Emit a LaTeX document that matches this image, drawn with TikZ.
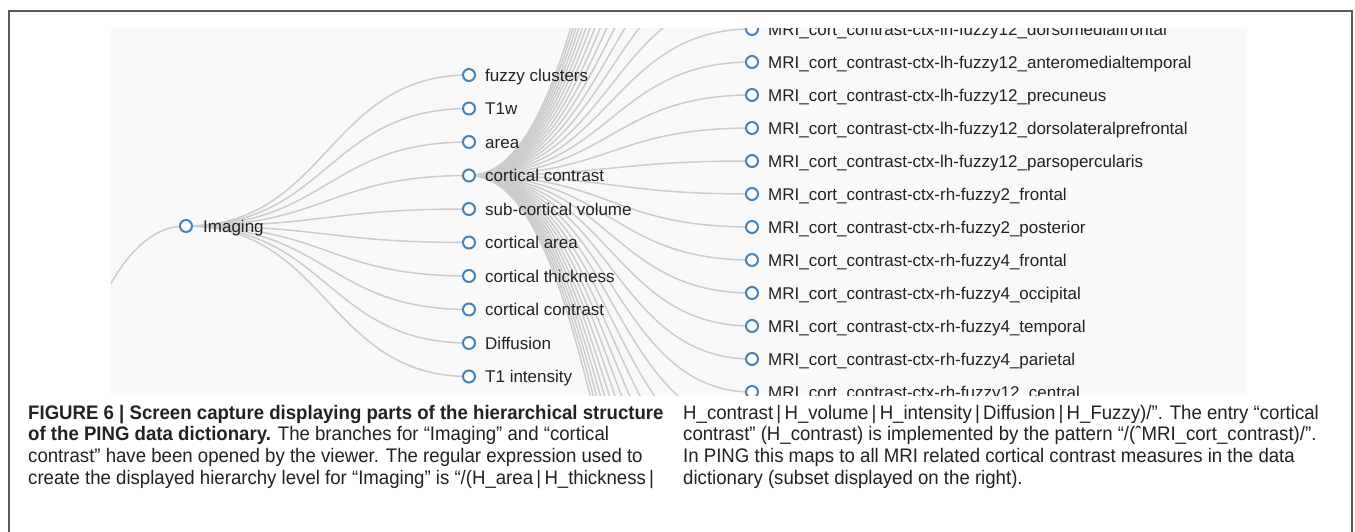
\documentclass[tikz,border=0pt]{standalone}
\usepackage{fontspec}
\setmainfont{Liberation Sans}
\newfontfamily\capfont[FakeStretch=0.95]{Liberation Sans}
\definecolor{steel}{HTML}{4682B4}
\definecolor{linkc}{HTML}{CCCCCC}
\definecolor{shotbg}{HTML}{F9F9F9}
\definecolor{framec}{HTML}{5A5A5A}
\definecolor{labelc}{HTML}{222222}
\begin{document}
\begin{tikzpicture}[x=1pt,y=-1pt,
  tlink/.style={draw=linkc, line width=1.5pt},
  tnode/.style={circle, draw=steel, fill=white, line width=2pt, minimum size=12pt, inner sep=0pt},
  tlabel/.style={anchor=base west, inner sep=0pt, text=labelc, font=\fontsize{17}{20}\selectfont},
  capline/.style={anchor=base west, inner sep=0pt, text=labelc, font=\capfont\fontsize{19.6}{21}\selectfont},
  frameline/.style={draw=framec, line width=1.5pt}]
\useasboundingbox (0,0) rectangle (1355,531);
\fill[white] (0,0) rectangle (1355,531);
% outer frame
\draw[frameline] (9,540) -- (9,11) -- (1352,11) -- (1352,540);
% screenshot area
\fill[shotbg] (111,28) rectangle (1247,395);
\begin{scope}
\clip (111,28) rectangle (1247,395);
% coordinates
\coordinate (imgp) at (-97,700);
\coordinate (img) at (186,226);
\foreach \i in {1,...,10} \coordinate (c2-\i) at (469,{75+33.5*(\i-1)});
\foreach \k in {-15,...,22} \coordinate (m\k) at (752,{62+33*\k});
% links
\draw[tlink] (imgp) .. controls +(141.5,0) and +(-141.5,0) .. (img);
\foreach \i in {1,...,10}
  \draw[tlink] (img) .. controls +(141.5,0) and +(-141.5,0) .. (c2-\i);
\foreach \k in {-15,...,22}
  \draw[tlink] (c2-4) .. controls +(141.5,0) and +(-141.5,0) .. (m\k);
% nodes
\node[tnode] (imaging) at (img) {};
\node[tlabel] (imaginglab) at ([shift={(17,6)}]img) {Imaging};
\foreach \i/\t in {1/fuzzy clusters,2/T1w,3/area,4/cortical contrast,5/sub-cortical volume,6/cortical area,7/cortical thickness,8/cortical contrast,9/Diffusion,10/T1 intensity}{
  \node[tnode] (n2-\i) at (c2-\i) {};
  \node[tlabel] (l2-\i) at ([shift={(16,6)}]c2-\i) {\t};
}
\foreach \k/\t in {-1/lh-fuzzy12\_dorsomedialfrontal,0/lh-fuzzy12\_anteromedialtemporal,1/lh-fuzzy12\_precuneus,2/lh-fuzzy12\_dorsolateralprefrontal,3/lh-fuzzy12\_parsopercularis,4/rh-fuzzy2\_frontal,5/rh-fuzzy2\_posterior,6/rh-fuzzy4\_frontal,7/rh-fuzzy4\_occipital,8/rh-fuzzy4\_temporal,9/rh-fuzzy4\_parietal,10/rh-fuzzy12\_central}{
  \node[tnode] (n3\k) at (m\k) {};
  \node[tlabel] (l3\k) at ([shift={(16,6)}]m\k) {MRI\_cort\_contrast-ctx-\t};
}
\end{scope}
% caption
\node[capline] (capL1) at (28,419) {\bfseries FIGURE 6 | Screen capture displaying parts of the hierarchical structure};
\node[capline] (capL2) at (28,440.7) {\textbf{of the PING data dictionary.} The branches for “Imaging” and “cortical};
\node[capline] (capL3) at (28,462.4) {contrast” have been opened by the viewer. The regular expression used to};
\node[capline] (capL4) at (28,484) {create the displayed hierarchy level for “Imaging” is “/(H\_area\,|\,H\_thickness\,|};
\node[capline] (capR1) at (683,419) {H\_contrast\,|\,H\_volume\,|\,H\_intensity\,|\,Diffusion\,|\,H\_Fuzzy)/”. The entry “cortical};
\node[capline] (capR2) at (683,440.7) {contrast” (H\_contrast) is implemented by the pattern “/(ˆMRI\_cort\_contrast)/”.};
\node[capline] (capR3) at (683,462.4) {In PING this maps to all MRI related cortical contrast measures in the data};
\node[capline] (capR4) at (683,484) {dictionary (subset displayed on the right).};
\end{tikzpicture}
\end{document}
